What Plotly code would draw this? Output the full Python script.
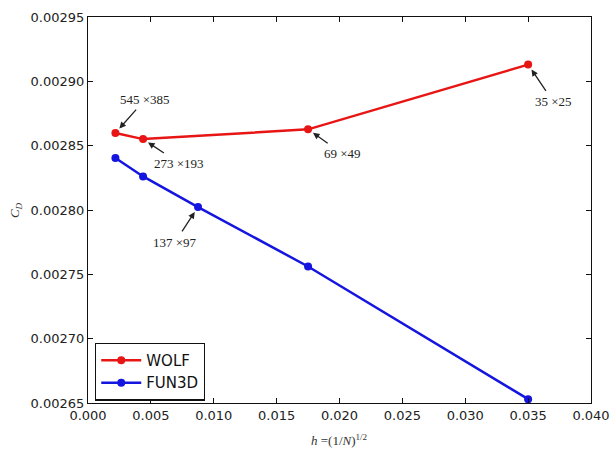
import plotly.graph_objects as go

# Data
h_vals = [0.00218, 0.00438, 0.00875, 0.0175, 0.0350]
wolf_cd = [0.0028598, 0.0028551, None, 0.0028627, 0.0029130]
fun3d_cd = [0.0028404, 0.0028261, 0.0028023, 0.0027561, 0.0026530]
mesh_labels = ["545 ×385", "273 ×193", "137 ×97", "69 ×49", "35 ×25"]
label_series = ["wolf", "wolf", "fun3d", "wolf", "wolf"]
x_ticks = [0.000, 0.005, 0.010, 0.015, 0.020, 0.025, 0.030, 0.035, 0.040]
y_ticks = [0.00265, 0.00270, 0.00275, 0.00280, 0.00285, 0.00290, 0.00295]
x_title = "<i>h</i> =(1/<i>N</i>)<sup>1/2</sup>"
y_title = "<i>C<sub>D</sub></i>"

# label offsets (pixels, text centre relative to point)
label_offsets = [(30, -34), (36, 24), (-23, 35), (34, 24), (25, 37)]

wolf_x = [h for h, c in zip(h_vals, wolf_cd) if c is not None]
wolf_y = [c for c in wolf_cd if c is not None]

RED = "#e81515"
BLUE = "#1515e0"
SERIF = "Liberation Serif, DejaVu Serif, serif"

fig = go.Figure()
fig.add_trace(go.Scatter(x=wolf_x, y=wolf_y, mode="lines+markers", name="WOLF",
                         line=dict(color=RED, width=2.5),
                         marker=dict(color=RED, size=8)))
fig.add_trace(go.Scatter(x=h_vals, y=fun3d_cd, mode="lines+markers", name="FUN3D",
                         line=dict(color=BLUE, width=2.5),
                         marker=dict(color=BLUE, size=8)))

annotations = []
for h, lab, ser, (ox, oy), wc, fc in zip(h_vals, mesh_labels, label_series,
                                         label_offsets, wolf_cd, fun3d_cd):
    yv = wc if ser == "wolf" else fc
    annotations.append(dict(
        x=h, y=yv, xref="x", yref="y", text=lab, showarrow=True,
        ax=ox, ay=oy, arrowhead=2, arrowsize=1, arrowwidth=1.3,
        arrowcolor="#222222", standoff=6, startstandoff=2,
        font=dict(family=SERIF, size=13, color="#222222"),
    ))

# axis titles
annotations.append(dict(text=x_title, xref="paper", yref="paper", x=0.5, y=-0.096,
                        xanchor="center", yanchor="middle", showarrow=False,
                        font=dict(family=SERIF, size=13, color="#333333")))
annotations.append(dict(text=y_title, xref="paper", yref="paper", x=-0.145, y=0.5,
                        xanchor="center", yanchor="middle", showarrow=False, textangle=-90,
                        font=dict(family=SERIF, size=13, color="#333333")))

axis_common = dict(
    showgrid=False, zeroline=False, showline=True, linecolor="#111111", linewidth=1.3,
    mirror="ticks", ticks="inside", ticklen=5, tickcolor="#111111", tickwidth=1,
    ticklabeloverflow="allow", automargin=False,
    tickfont=dict(family="DejaVu Sans, sans-serif", size=13, color="#222222"),
)

fig.update_layout(
    width=609, height=451,
    margin=dict(l=88, r=18, t=17, b=48),
    paper_bgcolor="white", plot_bgcolor="white",
    showlegend=True,
    legend=dict(x=0.014, y=0.006, xanchor="left", yanchor="bottom",
                bordercolor="#111111", borderwidth=1.2, bgcolor="white",
                font=dict(family="DejaVu Sans, sans-serif", size=15, color="#111111"),
                itemwidth=40, tracegroupgap=2),
    xaxis=dict(range=[0, 0.040], tickvals=x_ticks, tickformat=".3f", **axis_common),
    yaxis=dict(range=[0.00265, 0.00295], tickvals=y_ticks, tickformat=".5f", **axis_common),
    annotations=annotations,
)

fig.write_html("out.html", post_script="document.body.style.margin='0';",
               config={"displayModeBar": False})
